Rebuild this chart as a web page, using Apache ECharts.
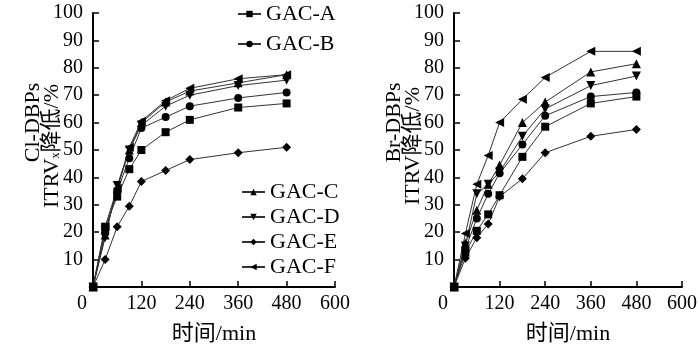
<!DOCTYPE html>
<html>
<head>
<meta charset="utf-8">
<script src="https://cdn.jsdelivr.net/npm/echarts@6/dist/echarts.min.js"></script>
<style>
  html, body { margin: 0; padding: 0; background: #fff; }
  #chart { width: 700px; height: 350px; }
</style>
</head>
<body>
<div id="chart"></div>
<script>
const times = [0, 30, 60, 90, 120, 180, 240, 360, 480]
const names = ['GAC-A', 'GAC-B', 'GAC-C', 'GAC-D', 'GAC-E', 'GAC-F']

// Cl-DBPs ITRVx reduction (%)
const clA = [0, 22, 33, 43, 50, 56.5, 61, 65.5, 67]
const clB = [0, 20, 35, 47, 58, 62, 66, 69, 71]
const clC = [0, 19, 36, 50, 60, 67.5, 71.5, 74.5, 77.5]
const clD = [0, 18, 37, 50, 59, 66, 70, 73.5, 75.5]
const clE = [0, 10, 22, 29.5, 38.5, 42.5, 46.5, 49, 51]
const clF = [0, 22, 36, 51, 60.5, 68, 72.5, 76, 77.5]

// Br-DBPs ITRV reduction (%)
const brA = [0, 12.5, 20.5, 26.5, 33.5, 47.5, 58.5, 67, 69.5]
const brB = [0, 14, 25, 34, 41.5, 52, 62.5, 69.5, 71]
const brC = [0, 16, 28, 37.5, 44.5, 60, 67.5, 78.5, 81.5]
const brD = [0, 15, 34, 37.5, 42, 55, 65, 73.5, 77]
const brE = [0, 10.5, 18, 23, 33, 39.5, 49, 55, 57.5]
const brF = [0, 19.5, 37.5, 48, 60, 68.5, 76.5, 86, 86]

const clData = [clA, clB, clC, clD, clE, clF]
const brData = [brA, brB, brC, brD, brE, brF]

const symbols = [
  { symbol: 'rect', symbolSize: 8, symbolRotate: 0 },
  { symbol: 'circle', symbolSize: 8, symbolRotate: 0 },
  { symbol: 'triangle', symbolSize: 9, symbolRotate: 0 },
  { symbol: 'triangle', symbolSize: 9, symbolRotate: 180 },
  { symbol: 'diamond', symbolSize: 9, symbolRotate: 0 },
  { symbol: 'triangle', symbolSize: 9, symbolRotate: 90 }
]

const serif = '"Liberation Serif", "Noto Sans CJK SC", serif'
const chart = echarts.init(document.getElementById('chart'))

function xAxisFor(gridIndex) {
  return {
    type: 'value',
    gridIndex: gridIndex,
    min: 0,
    max: 600,
    interval: 120,
    name: '时间/min',
    nameLocation: 'middle',
    nameGap: 36,
    nameMoveOverlap: false,
    nameTextStyle: { fontFamily: serif, fontSize: 22, color: '#000' },
    axisLine: { show: true, lineStyle: { color: '#000', width: 2 } },
    axisTick: { show: true, inside: true, length: 6, lineStyle: { color: '#000', width: 1.5 } },
    splitLine: { show: false },
    axisLabel: {
      margin: 7,
      fontFamily: serif,
      fontSize: 20,
      color: '#000',
      formatter: v => (v === 0 ? '{z|0}' : String(v)),
      rich: { z: { fontFamily: serif, fontSize: 20, color: '#000', padding: [0, 22, 0, 0] } }
    }
  }
}

function yAxisFor(gridIndex, nameText) {
  const base = { fontFamily: serif, fontSize: 22, color: '#000', lineHeight: 19 }
  return {
    type: 'value',
    gridIndex: gridIndex,
    min: 0,
    max: 100,
    interval: 10,
    name: nameText,
    nameLocation: 'middle',
    nameRotate: 90,
    nameGap: 31,
    nameMoveOverlap: false,
    nameTextStyle: {
      fontFamily: serif,
      fontSize: 22,
      color: '#000',
      lineHeight: 19,
      rich: {
        a: Object.assign({}, base, { padding: [0, 0, 0, 55] }),
        c: Object.assign({}, base, { padding: [0, 0, 0, 8] }),
        b: base,
        s: { fontFamily: serif, fontSize: 12, color: '#000', lineHeight: 19, verticalAlign: 'bottom', padding: [6, 0, 0, 0] }
      }
    },
    axisLine: { show: true, lineStyle: { color: '#000', width: 2 } },
    axisTick: { show: true, inside: true, length: 6, lineStyle: { color: '#000', width: 1.5 } },
    splitLine: { show: false },
    axisLabel: {
      margin: 10,
      fontFamily: serif,
      fontSize: 20,
      color: '#000',
      padding: [12, 0, 0, 0],
      formatter: v => (v === 0 ? '' : String(v))
    }
  }
}

function seriesFor(gridIndex, dataSet) {
  return names.map((name, i) => ({
    name: name,
    type: 'line',
    xAxisIndex: gridIndex,
    yAxisIndex: gridIndex,
    data: times.map((t, k) => [t, dataSet[i][k]]),
    symbol: symbols[i].symbol,
    symbolSize: symbols[i].symbolSize,
    symbolRotate: symbols[i].symbolRotate,
    itemStyle: { color: '#000' },
    lineStyle: { color: '#333', width: 1 },
    animation: false
  }))
}

chart.setOption({
  animation: false,
  grid: [
    { left: 93, top: 13, width: 242, height: 275 },
    { left: 454, top: 13, width: 229, height: 274 }
  ],
  legend: [
    {
      data: ['GAC-A', 'GAC-B'],
      orient: 'vertical',
      left: 232,
      top: -2,
      itemWidth: 23,
      itemHeight: 8,
      itemGap: 8,
      textStyle: { fontFamily: serif, fontSize: 22, color: '#000', lineHeight: 22 }
    },
    {
      data: ['GAC-C', 'GAC-D', 'GAC-E', 'GAC-F'],
      orient: 'vertical',
      left: 236,
      top: 176,
      itemWidth: 23,
      itemHeight: 8,
      itemGap: 3,
      textStyle: { fontFamily: serif, fontSize: 22, color: '#000', lineHeight: 22 }
    }
  ],
  xAxis: [xAxisFor(0), xAxisFor(1)],
  yAxis: [
    yAxisFor(0, '{a|Cl-DBPs}\n{c|ITRV}{s|x}{b|降低/%}'),
    yAxisFor(1, '{a|Br-DBPs}\n{c|ITRV}{b|降低/%}')
  ],
  series: seriesFor(0, clData).concat(seriesFor(1, brData))
})
</script>
</body>
</html>
